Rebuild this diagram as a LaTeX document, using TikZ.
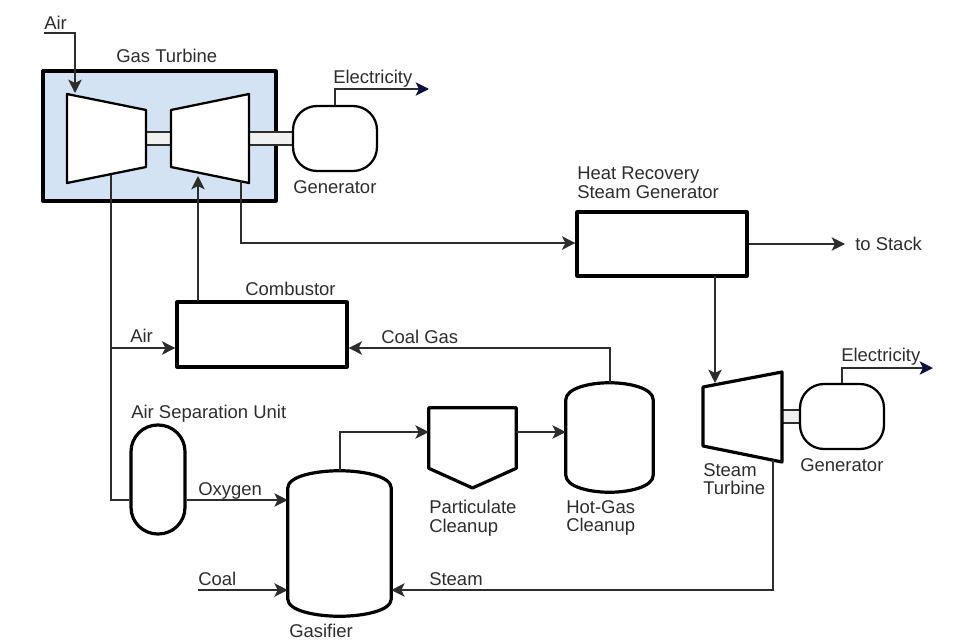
\documentclass[tikz,border=0pt]{standalone}
\usepackage{fontspec}
\setmainfont{Liberation Sans}
\usetikzlibrary{arrows.meta, positioning, calc}
\definecolor{inkgray}{HTML}{2E2C2D}
\definecolor{turbineblue}{HTML}{D3E3F3}
\definecolor{shaftgray}{HTML}{F0F0F0}
\definecolor{tipnavy}{HTML}{0B1240}
\tikzset{
  lbl/.style={anchor=base west, inner sep=0pt, text=inkgray},
  lblblock/.style={anchor=north west, inner sep=0pt, text=inkgray, align=left},
  flow/.style={draw=inkgray, line width=1.5pt, -{Stealth[length=10pt,width=10pt,inset=2.5pt]}},
  pipe/.style={draw=inkgray, line width=1.5pt},
  power/.style={draw=inkgray, line width=1.5pt, -{Stealth[length=10pt,width=10pt,inset=2.5pt,color=tipnavy]}},
  heavy/.style={draw=black, line width=2.4pt, line join=round},
  medium/.style={draw=black, line width=1.7pt, line join=round},
  blockbox/.style={heavy, fill=white, rectangle, inner sep=0pt},
  generator/.style={medium, fill=white, rectangle, inner sep=0pt, rounded corners=18pt, minimum width=63pt, minimum height=48.75pt},
  shaft/.style={draw=inkgray, line width=1.2pt, fill=shaftgray},
  hull/.style={rectangle, inner sep=0pt}
}
% domed vessel drawn round a hull node: name, dome height (pt), line style
\newcommand{\vessel}[3]{
  \draw[#3] ([yshift=-#2]#1.north west)
    .. controls ([yshift=-0.3*#2]#1.north west) and ($(#1.north west)!0.28!(#1.north east)$) .. (#1.north)
    .. controls ($(#1.north west)!0.72!(#1.north east)$) and ([yshift=-0.3*#2]#1.north east) .. ([yshift=-#2]#1.north east)
    -- ([yshift=#2]#1.south east)
    .. controls ([yshift=0.3*#2]#1.south east) and ($(#1.south west)!0.72!(#1.south east)$) .. (#1.south)
    .. controls ($(#1.south west)!0.28!(#1.south east)$) and ([yshift=0.3*#2]#1.south west) .. ([yshift=#2]#1.south west)
    -- cycle;
}
\begin{document}
\begin{tikzpicture}[x=0.75pt, y=-0.75pt, font=\fontsize{13.85}{13.85}\selectfont]
  \useasboundingbox (0,0) rectangle (970,639);

  % Gas turbine
  \node[heavy, fill=turbineblue, rectangle, inner sep=0pt, minimum width=174.75pt, minimum height=97.5pt] (gasbox) at (159.5,136) {};
  \draw[shaft] (146,132) rectangle (171,145);
  \draw[shaft] (249,132) rectangle (293,145);
  \coordinate (comp1) at (67,94);
  \coordinate (comp2) at (146,110);
  \coordinate (comp3) at (146,167);
  \coordinate (comp4) at (67,183);
  \draw[medium, fill=white] (comp1) -- (comp2) -- (comp3) -- (comp4) -- cycle;
  \coordinate (turb1) at (171,110);
  \coordinate (turb2) at (249,94);
  \coordinate (turb3) at (249,183);
  \coordinate (turb4) at (171,167);
  \draw[medium, fill=white] (turb1) -- (turb2) -- (turb3) -- (turb4) -- cycle;
  \node[generator] (gengas) at (335,138.5) {};

  % Steam turbine
  \draw[shaft] (782,410) rectangle (800,423);
  \coordinate (steam1) at (703,387);
  \coordinate (steam2) at (782,372);
  \coordinate (steam3) at (782,462);
  \coordinate (steam4) at (703,446);
  \draw[heavy] (steam1) -- (steam2) -- (steam3) -- (steam4) -- cycle;
  \node[generator] (gensteam) at (842,416.5) {};

  % Blocks
  \node[blockbox, minimum width=127.5pt, minimum height=48pt] (hrsg) at (662,244) {};
  \node[blockbox, minimum width=127.5pt, minimum height=48.75pt] (combustor) at (262,334.5) {};
  \node[heavy, fill=white, rectangle, inner sep=0pt, rounded corners=20pt, minimum width=40.5pt, minimum height=81.75pt] (asu) at (158,479.5) {};
  \node[hull, minimum width=77.25pt, minimum height=108.75pt] (gasifier) at (339.5,543.5) {};
  \vessel{gasifier}{13pt}{heavy}
  \node[hull, minimum width=65.25pt, minimum height=81.75pt] (hotgas) at (609.5,437.5) {};
  \vessel{hotgas}{13pt}{heavy}
  \node[hull, minimum width=65.25pt, minimum height=45pt] (particulate) at (472.5,438) {};
  \coordinate (particulatetip) at (472.5,488);
  \draw[heavy] (particulate.north west) -- (particulate.north east) -- (particulate.south east) -- (particulatetip) -- (particulate.south west) -- cycle;

  % Free ends
  \coordinate (airstart) at (44,33);
  \coordinate (airtip) at (75,93);
  \coordinate (compout) at (111,175);
  \coordinate (airbranch) at (111,348);
  \coordinate (asuin) at (111,500);
  \coordinate (combout) at (198,301);
  \coordinate (turbin) at (198,176);
  \coordinate (turbout) at (241,181);
  \coordinate (exhaust) at (241,243);
  \coordinate (elecgas) at (429,89);
  \coordinate (elecsteam) at (933,368);
  \coordinate (stack) at (845,244);
  \coordinate (hrsgout) at (715,276);
  \coordinate (steamin) at (715,383);
  \coordinate (coalstart) at (198,590);
  \coordinate (steamout) at (773,460);
  \coordinate (steamline) at (773,590);
  \coordinate (partline) at (340,432);
  \coordinate (gasline) at (609,348);

  % Connectors
  \draw[flow] (airstart) -| (airtip);
  \draw[pipe] (compout) |- (asuin) -- (asuin -| asu.west);
  \draw[flow] (airbranch) -- (airbranch -| combustor.west);
  \draw[flow] (combout) -- (turbin);
  \draw[flow] (turbout) |- (exhaust -| hrsg.west);
  \draw[power] (gengas.north) |- (elecgas);
  \draw[power] (gensteam.north) |- (elecsteam);
  \draw[flow] (hrsg.east) -- (stack);
  \draw[flow] (hrsgout) -- (steamin);
  \draw[flow] (hotgas.north) |- (gasline -| combustor.east);
  \draw[flow] (asu.east |- asuin) -- (asuin -| gasifier.west);
  \draw[flow] (coalstart) -- (coalstart -| gasifier.west);
  \draw[flow] (steamout) -- (steamline) -- (steamline -| gasifier.east);
  \draw[flow] (gasifier.north -| partline) |- (partline -| particulate.west);
  \draw[flow] (partline -| particulate.east) -- (partline -| hotgas.west);

  % Labels
  \node[lbl] (lblairin) at (44,29) {Air};
  \node[lbl] (lblgasturbine) at (116,62) {Gas Turbine};
  \node[lbl] (lblelecgas) at (333,83) {Electricity};
  \node[lbl] (lblgengas) at (293,193) {Generator};
  \node[lblblock] (lblhrsg) at (577,167) {Heat Recovery\\Steam Generator};
  \node[lbl] (lblstack) at (855,250) {to Stack};
  \node[lbl] (lblcombustor) at (245,295) {Combustor};
  \node[lbl] (lblair) at (130,342) {Air};
  \node[lbl] (lblcoalgas) at (381,343) {Coal Gas};
  \node[lbl] (lblelecsteam) at (841,361) {Electricity};
  \node[lbl] (lblasu) at (131,418) {Air Separation Unit};
  \node[lbl] (lbloxygen) at (198,495) {Oxygen};
  \node[lblblock] (lblparticulate) at (429,500) {Particulate\\Cleanup};
  \node[lblblock] (lblhotgas) at (566,500) {Hot-Gas\\Cleanup};
  \node[lblblock] (lblsteamturbine) at (703,463) {Steam\\Turbine};
  \node[lbl] (lblgensteam) at (800,471) {Generator};
  \node[lbl] (lblcoal) at (198,585) {Coal};
  \node[lbl] (lblsteam) at (429,585) {Steam};
  \node[lbl] (lblgasifier) at (289,637) {Gasifier};
\end{tikzpicture}
\end{document}
